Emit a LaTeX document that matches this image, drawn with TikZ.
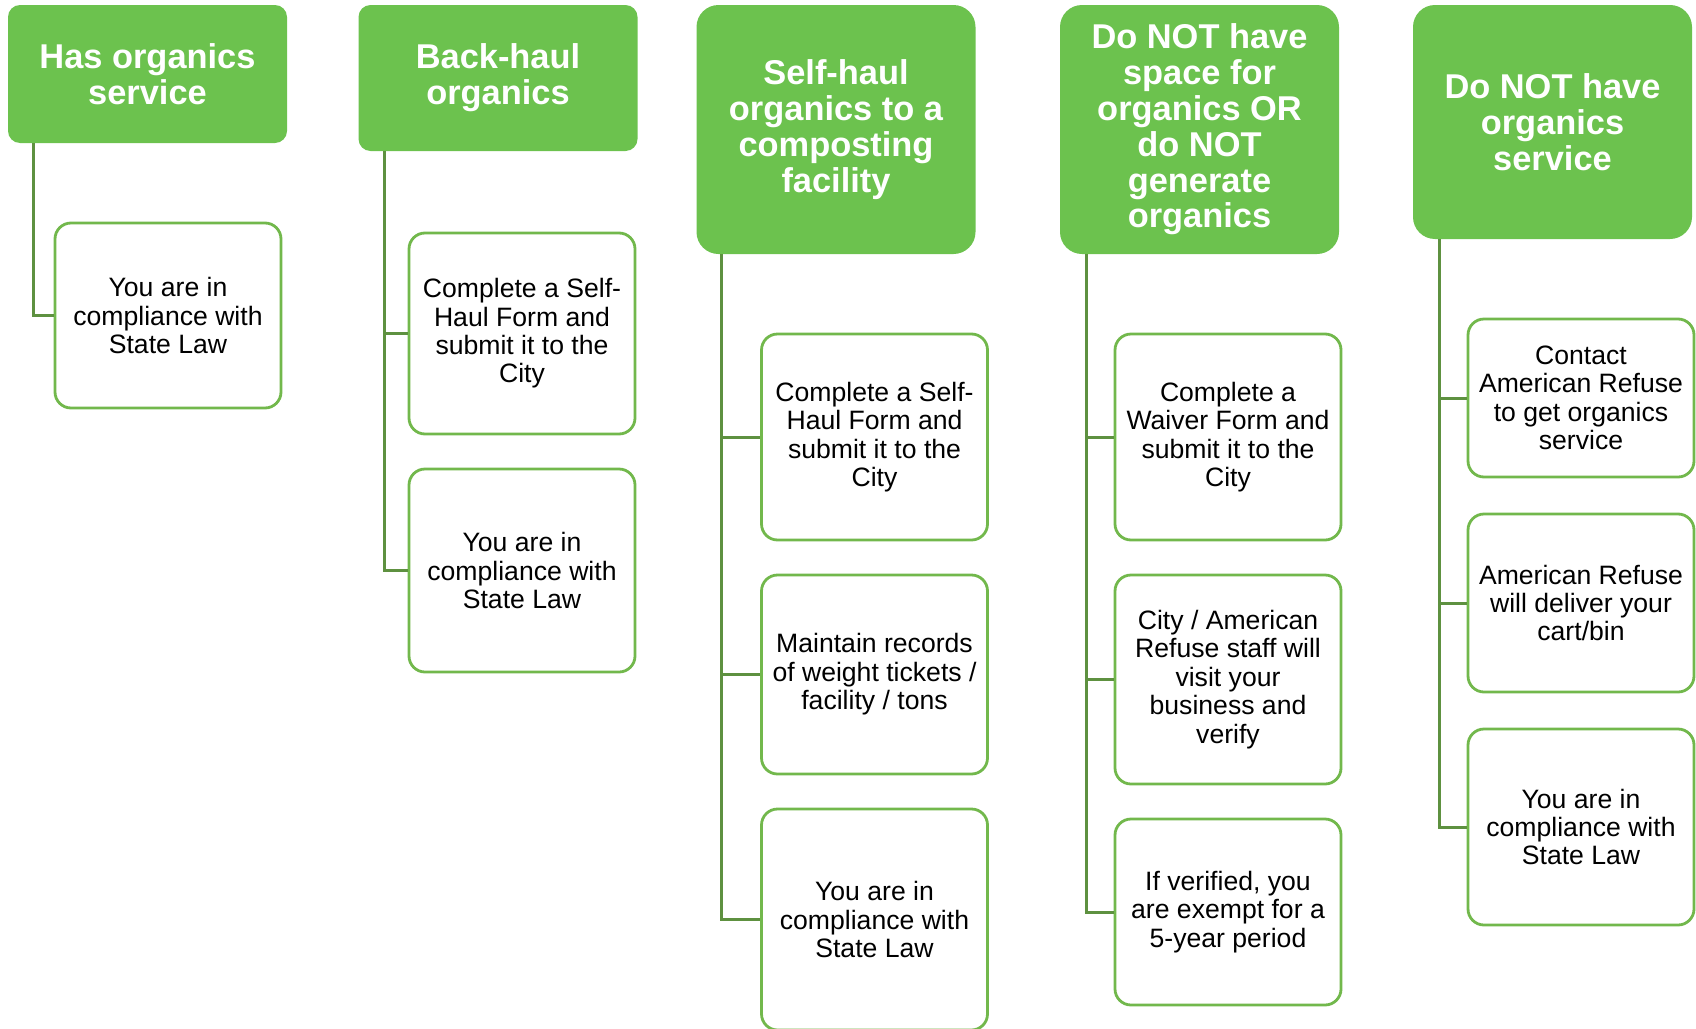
\documentclass[tikz,border=0pt]{standalone}
\usepackage{fontspec}
\setmainfont{Liberation Sans}
\usepackage{tikz}
\usetikzlibrary{positioning}
\usepackage{xcolor}
\definecolor{Leaf}{HTML}{6CC24E}
\definecolor{Rim}{HTML}{72B84C}
\definecolor{Stem}{HTML}{5E9140}

\begin{document}
\begin{tikzpicture}[x=0.5pt,y=-0.5pt,
    hdr/.style={fill=Leaf,text=white,font=\fontsize{17.2}{17.9}\selectfont\bfseries,align=center,minimum width=139.5pt,inner sep=0pt},
    leaf/.style={draw=Rim,line width=1.4pt,fill=white,font=\fontsize{13.3}{14.2}\selectfont,align=center,minimum width=113pt,inner sep=0pt,rounded corners=8pt},
    stem/.style={draw=Stem,line width=1.5pt}]
    \useasboundingbox (0,0) rectangle (1696,1028);

    % column heads
    \node[hdr,rounded corners=6pt,minimum height=69pt] (has) at (147.5,74) {Has organics\\service};
    \node[hdr,rounded corners=6pt,minimum height=73pt] (back) at (498,78) {Back-haul\\organics};
    \node[hdr,rounded corners=11pt,minimum height=124.5pt] (self) at (836,129.5) {Self-haul\\organics to a\\composting\\facility};
    \node[hdr,rounded corners=11pt,minimum height=124.5pt] (nospace) at (1199.5,129.5) {Do NOT have\\space for\\organics OR\\do NOT\\generate\\organics};
    \node[hdr,rounded corners=11pt,minimum height=117pt] (noserv) at (1552.5,122) {Do NOT have\\organics\\service};

    % steps under each head
    \node[leaf,minimum height=92.5pt] (has1) at (168,315.5) {You are in\\compliance with\\State Law};

    \node[leaf,minimum height=100.5pt] (back1) at (522,333.5) {Complete a Self-\\Haul Form and\\submit it to the\\City};
    \node[leaf,minimum height=101.5pt] (back2) at (522,570.5) {You are in\\compliance with\\State Law};

    \node[leaf,minimum height=103pt] (self1) at (874.5,437) {Complete a Self-\\Haul Form and\\submit it to the\\City};
    \node[leaf,minimum height=99.5pt] (self2) at (874.5,674.5) {Maintain records\\of weight tickets /\\facility / tons};
    \node[leaf,minimum height=110.5pt] (self3) at (874.5,919.5) {You are in\\compliance with\\State Law};

    \node[leaf,minimum height=103pt] (nospace1) at (1228,437) {Complete a\\Waiver Form and\\submit it to the\\City};
    \node[leaf,minimum height=104.5pt] (nospace2) at (1228,679.5) {City / American\\Refuse staff will\\visit your\\business and\\verify};
    \node[leaf,minimum height=93pt] (nospace3) at (1228,912) {If verified, you\\are exempt for a\\5-year period};

    \node[leaf,minimum height=79pt] (noserv1) at (1581,398) {Contact\\American Refuse\\to get organics\\service};
    \node[leaf,minimum height=89pt] (noserv2) at (1581,603) {American Refuse\\will deliver your\\cart/bin};
    \node[leaf,minimum height=98pt] (noserv3) at (1581,827) {You are in\\compliance with\\State Law};

    % elbow lines from head to steps
    \draw[stem] ([xshift=13pt]has.south west) |- (has1.west);
    \foreach \s in {back1,back2}
        \draw[stem] ([xshift=13pt]back.south west) |- (\s.west);
    \foreach \s in {self1,self2,self3}
        \draw[stem] ([xshift=12.75pt]self.south west) |- (\s.west);
    \foreach \s in {nospace1,nospace2,nospace3}
        \draw[stem] ([xshift=13.5pt]nospace.south west) |- (\s.west);
    \foreach \s in {noserv1,noserv2,noserv3}
        \draw[stem] ([xshift=13.5pt]noserv.south west) |- (\s.west);
\end{tikzpicture}
\end{document}
